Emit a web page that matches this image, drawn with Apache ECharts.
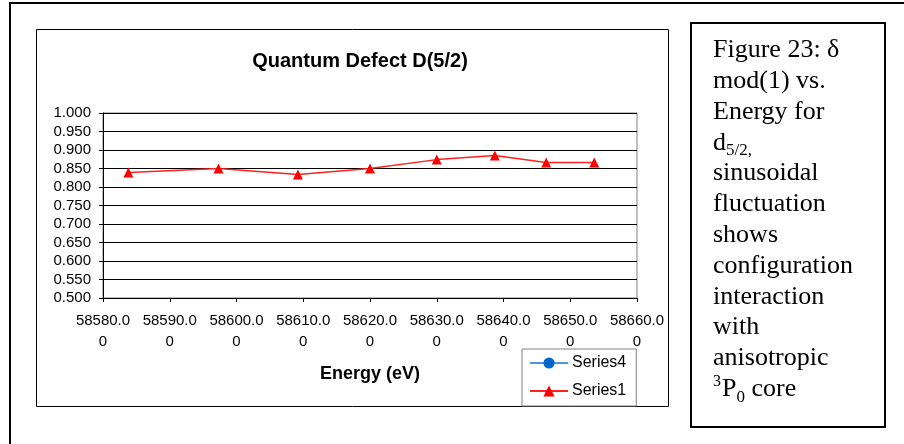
<!DOCTYPE html>
<html>
<head>
<meta charset="utf-8">
<title>Quantum Defect D(5/2)</title>
<script src="https://cdn.jsdelivr.net/npm/echarts@6/dist/echarts.min.js"></script>
<style>
  html, body { margin: 0; padding: 0; background: #fff; }
  #chart { width: 904px; height: 444px; }
</style>
</head>
<body>
<div id="chart"></div>
<script>
// data
var energies = [58583.8, 58597.3, 58609.2, 58620.0, 58630.0, 58638.7, 58646.4, 58653.6];
var series1Values = [0.839, 0.850, 0.834, 0.850, 0.874, 0.885, 0.866, 0.866];
var series4Values = [];
var seriesNames = ['Series4', 'Series1'];

var captionLines = [
    'Figure 23: δ',
    'mod(1) vs.',
    'Energy for',
    'd{sub|5/2,}',
    'sinusoidal',
    'fluctuation',
    'shows',
    'configuration',
    'interaction',
    'with',
    'anisotropic',
    '{sup|3}P{sub|0} core'
];

function pairs(xs, ys) {
    var out = [];
    for (var i = 0; i < ys.length; i++) out.push([xs[i], ys[i]]);
    return out;
}

var sans = 'Liberation Sans';
var chart = echarts.init(document.getElementById('chart'), null, {renderer: 'canvas'});

var option = {
    animation: false,
    backgroundColor: '#fff',
    title: {
        text: 'Quantum Defect D(5/2)',
        left: 360,
        top: 51,
        textAlign: 'center',
        padding: 0,
        textStyle: {fontFamily: sans, fontSize: 20, fontWeight: 'bold', color: '#000'}
    },
    legend: {
        data: seriesNames,
        orient: 'vertical',
        left: 522,
        top: 349,
        padding: [6, 10, 7, 7],
        itemWidth: 38,
        itemHeight: 14,
        itemGap: 12,
        backgroundColor: '#fff',
        borderColor: '#808080',
        borderWidth: 1,
        borderRadius: 0,
        textStyle: {fontFamily: sans, fontSize: 16, color: '#000', lineHeight: 16, padding: [0, 0, 0, -1]}
    },
    grid: {
        left: 103, top: 113, width: 534, height: 185,
        show: true, borderColor: '#808080', borderWidth: 1,
        containLabel: false
    },
    xAxis: {
        type: 'value',
        min: 58580, max: 58660, interval: 10,
        name: 'Energy (eV)',
        nameLocation: 'middle',
        nameGap: 67,
        nameTextStyle: {fontFamily: sans, fontSize: 18, fontWeight: 'bold', color: '#000'},
        axisLine: {show: true, lineStyle: {color: '#000', width: 1}},
        axisTick: {show: true, inside: false, length: 4, lineStyle: {color: '#000'}},
        splitLine: {show: false},
        axisLabel: {
            fontFamily: sans, fontSize: 15, color: '#000', margin: 12, lineHeight: 21,
            formatter: function (v) {
                var s = v.toFixed(2);
                return s.slice(0, 7) + '\n' + s.slice(7);
            }
        }
    },
    yAxis: {
        type: 'value',
        min: 0.5, max: 1.0, interval: 0.05,
        axisLine: {show: true, lineStyle: {color: '#000', width: 1}},
        axisTick: {show: true, inside: false, length: 4, lineStyle: {color: '#000'}},
        splitLine: {show: true, lineStyle: {color: '#000', width: 1}},
        axisLabel: {
            fontFamily: sans, fontSize: 15, color: '#000', margin: 12,
            formatter: function (v) { return v.toFixed(3); }
        }
    },
    series: [
        {
            name: 'Series4',
            type: 'line',
            data: pairs(energies, series4Values),
            symbol: 'circle',
            symbolSize: 8,
            itemStyle: {color: '#0066cc'},
            lineStyle: {color: '#4f94e0', width: 1.5}
        },
        {
            name: 'Series1',
            type: 'line',
            data: pairs(energies, series1Values),
            symbol: 'triangle',
            symbolSize: 10,
            itemStyle: {color: '#ff0000'},
            lineStyle: {color: '#ff2020', width: 1.5},
            z: 3
        }
    ],
    graphic: [
        // outer page frame
        {type: 'rect', z: -10, silent: true,
         shape: {x: 10, y: 3, width: 1000, height: 600},
         style: {fill: '#fff', stroke: '#000', lineWidth: 2}},
        // chart area frame
        {type: 'rect', z: -5, silent: true,
         shape: {x: 36.5, y: 29.5, width: 632, height: 377},
         style: {fill: '#fff', stroke: '#000', lineWidth: 1}},
        // caption box
        {type: 'rect', z: -5, silent: true,
         shape: {x: 691, y: 23, width: 194, height: 404},
         style: {fill: '#fff', stroke: '#000', lineWidth: 2}},
        {type: 'text', z: 10, silent: true,
         x: 713, y: 35,
         style: {
             text: captionLines.join('\n'),
             fontFamily: 'Liberation Serif',
             fontSize: 26,
             lineHeight: 30.8,
             fill: '#000',
             verticalAlign: 'top',
             rich: {
                 sub: {fontFamily: 'Liberation Serif', fontSize: 17, lineHeight: 30.8, padding: [16, 0, 0, 0]},
                 sup: {fontFamily: 'Liberation Serif', fontSize: 16, lineHeight: 30.8, padding: [0, 1, 14, 0]}
             }
         }}
    ]
};

chart.setOption(option);
</script>
</body>
</html>
